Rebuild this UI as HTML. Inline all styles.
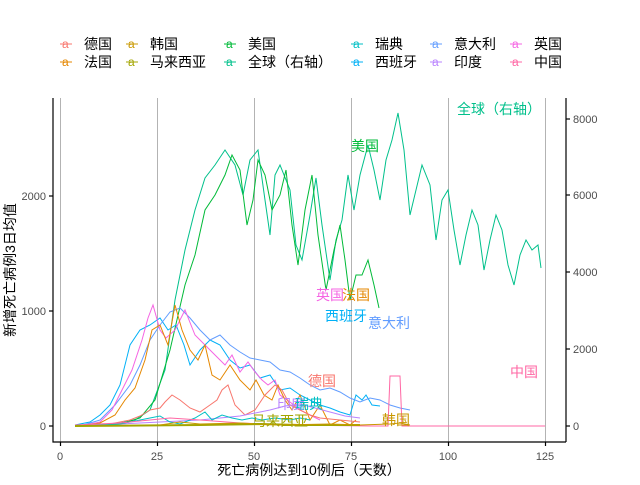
<!DOCTYPE html>
<html><head><meta charset="utf-8"><style>
body{margin:0;background:#fff;}
svg text{font-family:"Liberation Sans","Noto Sans CJK SC",sans-serif;}
</style></head><body>
<svg width="640" height="480" viewBox="0 0 640 480" xmlns="http://www.w3.org/2000/svg">
<rect width="640" height="480" fill="#fff"/>
<!-- legend -->
<g font-size="14" fill="#000">
<g stroke-width="1"><line x1="60" y1="44" x2="72" y2="44" stroke="#F8766D"/><line x1="60" y1="62" x2="72" y2="62" stroke="#E58700"/>
<line x1="126" y1="44" x2="138" y2="44" stroke="#C99800"/><line x1="126" y1="62" x2="138" y2="62" stroke="#A3A500"/>
<line x1="224" y1="44" x2="236" y2="44" stroke="#00BA38"/><line x1="224" y1="62" x2="236" y2="62" stroke="#00C08B"/>
<line x1="351" y1="44" x2="363" y2="44" stroke="#00BFC4"/><line x1="351" y1="62" x2="363" y2="62" stroke="#00B0F6"/>
<line x1="430" y1="44" x2="442" y2="44" stroke="#619CFF"/><line x1="430" y1="62" x2="442" y2="62" stroke="#B983FF"/>
<line x1="510" y1="44" x2="522" y2="44" stroke="#F564E3"/><line x1="510" y1="62" x2="522" y2="62" stroke="#FF67A4"/></g>
<text x="62" y="48" fill="#F8766D" font-size="12">a</text><text x="84" y="49">德国</text>
<text x="62" y="66" fill="#E58700" font-size="12">a</text><text x="84" y="67">法国</text>
<text x="128" y="48" fill="#C99800" font-size="12">a</text><text x="150" y="49">韩国</text>
<text x="128" y="66" fill="#A3A500" font-size="12">a</text><text x="150" y="67">马来西亚</text>
<text x="226" y="48" fill="#00BA38" font-size="12">a</text><text x="248" y="49">美国</text>
<text x="226" y="66" fill="#00C08B" font-size="12">a</text><text x="248" y="67">全球（右轴）</text>
<text x="353" y="48" fill="#00BFC4" font-size="12">a</text><text x="375" y="49">瑞典</text>
<text x="353" y="66" fill="#00B0F6" font-size="12">a</text><text x="375" y="67">西班牙</text>
<text x="432" y="48" fill="#619CFF" font-size="12">a</text><text x="454" y="49">意大利</text>
<text x="432" y="66" fill="#B983FF" font-size="12">a</text><text x="454" y="67">印度</text>
<text x="512" y="48" fill="#F564E3" font-size="12">a</text><text x="534" y="49">英国</text>
<text x="512" y="66" fill="#FF67A4" font-size="12">a</text><text x="534" y="67">中国</text>
</g>
<!-- grid -->
<g stroke="#b3b3b3" stroke-width="1">
<line x1="60.5" y1="98" x2="60.5" y2="442"/><line x1="157.5" y1="98" x2="157.5" y2="442"/>
<line x1="254.5" y1="98" x2="254.5" y2="442"/><line x1="351.5" y1="98" x2="351.5" y2="442"/>
<line x1="448.5" y1="98" x2="448.5" y2="442"/><line x1="545.5" y1="98" x2="545.5" y2="442"/>
</g>
<!-- axes -->
<g stroke="#000" stroke-width="1.2" fill="none">
<polyline points="53,98 53,442 566,442"/><line x1="566" y1="98" x2="566" y2="442"/>
<line x1="49" y1="426" x2="53" y2="426"/><line x1="49" y1="311" x2="53" y2="311"/><line x1="49" y1="196" x2="53" y2="196"/>
<line x1="566" y1="426" x2="570" y2="426"/><line x1="566" y1="349" x2="570" y2="349"/><line x1="566" y1="272" x2="570" y2="272"/><line x1="566" y1="195" x2="570" y2="195"/><line x1="566" y1="119" x2="570" y2="119"/>
<line x1="60.5" y1="442" x2="60.5" y2="446"/><line x1="157.5" y1="442" x2="157.5" y2="446"/><line x1="254.5" y1="442" x2="254.5" y2="446"/><line x1="351.5" y1="442" x2="351.5" y2="446"/><line x1="448.5" y1="442" x2="448.5" y2="446"/><line x1="545.5" y1="442" x2="545.5" y2="446"/>
</g>
<g font-size="11" fill="#4d4d4d">
<text x="46" y="430" text-anchor="end">0</text><text x="46" y="315" text-anchor="end">1000</text><text x="46" y="200" text-anchor="end">2000</text>
<text x="573" y="430">0</text><text x="573" y="353">2000</text><text x="573" y="276">4000</text><text x="573" y="199">6000</text><text x="573" y="123">8000</text>
<g text-anchor="middle"><text x="60" y="460">0</text><text x="157" y="460">25</text><text x="254" y="460">50</text><text x="351" y="460">75</text><text x="448" y="460">100</text><text x="545" y="460">125</text></g>
</g>
<text x="309" y="475" font-size="14" text-anchor="middle">死亡病例达到10例后（天数）</text>
<text transform="translate(15,270) rotate(-90)" font-size="14" text-anchor="middle">新增死亡病例3日均值</text>
<!-- series -->
<g fill="none" stroke-width="1">
<polyline stroke="#00C08B" points="75,426 100,425 120,423 135,420 150,410 165,370 175,300 185,250 195,210 205,178 215,165 225,150 235,165 243,195 250,160 258,150 265,200 270,235 275,175 280,165 290,190 296,245 302,260 310,215 316,178 322,225 330,280 336,240 342,220 348,175 354,210 360,175 368,145 374,170 380,200 386,160 392,140 398,113 404,150 410,215 416,190 422,165 430,185 436,240 442,200 448,190 454,230 460,265 466,235 472,210 478,225 484,270 490,240 496,215 502,230 508,265 514,285 520,255 526,240 532,250 538,245 541,268"/>
<polyline stroke="#00BA38" points="95,426 120,424 140,418 155,400 170,350 185,285 195,255 205,210 215,195 225,175 232,155 240,170 247,225 253,200 258,160 265,175 272,210 280,195 286,170 292,225 298,265 305,210 312,175 318,235 326,290 334,250 340,225 345,260 350,300 356,275 362,275 368,260 374,285 379,308"/>
<polyline stroke="#00B0F6" points="75,425 90,422 100,415 110,405 120,385 130,345 140,330 150,325 160,318 168,330 176,325 184,345 190,365 200,350 210,340 220,345 230,360 240,368 250,365 260,378 270,375 280,390 290,388 300,395 310,400 320,405 330,408 340,412 350,415 356,395 362,400 366,395 372,405 380,406"/>
<polyline stroke="#619CFF" points="80,426 100,420 115,405 130,385 140,365 150,340 160,325 170,312 180,308 190,318 200,330 210,340 220,335 230,345 240,352 250,358 260,360 270,362 280,370 290,372 300,378 310,385 320,390 330,388 340,392 350,398 360,402 370,398 380,400 390,405 400,408 410,410"/>
<polyline stroke="#F564E3" points="80,426 100,422 112,410 122,390 132,370 142,340 148,318 153,305 160,330 166,338 175,330 185,310 195,335 205,345 215,355 225,365 232,355 240,372 248,362 255,372 262,380 268,385 275,380 280,395 290,402 300,410 310,415 320,420"/>
<polyline stroke="#E58700" points="80,426 100,423 115,415 125,400 135,388 145,360 152,330 160,325 168,345 175,305 182,330 190,350 198,360 205,345 212,375 220,380 230,365 240,380 250,390 256,380 264,395 272,400 278,385 285,400 292,410 300,395 310,420 320,405 330,425 340,420 350,425 356,420"/>
<polyline stroke="#F8766D" points="85,426 110,424 130,420 140,416 150,410 160,408 165,402 172,395 180,400 190,408 200,412 210,405 217,400 222,390 228,385 235,405 245,415 255,410 265,395 275,385 282,390 290,405 300,410 310,415 320,418 340,420 360,422"/>
<polyline stroke="#B983FF" points="75,426 120,424 160,422 200,420 240,416 270,410 285,406 300,404 315,408 330,412 345,416 360,418"/>
<polyline stroke="#00BFC4" points="85,426 120,424 140,420 150,418 160,416 170,422 180,424 195,418 205,412 212,420 222,415 232,418 242,420 252,418 262,420 275,418 290,420 300,418 310,420"/>
<polyline stroke="#FF67A4" points="75,425 120,423 150,420 170,418 200,420 240,423 290,425 370,426 388,426 390,376 400,376 402,426 545,426"/>
<polyline stroke="#A3A500" stroke-width="2" points="75,426 200,425 260,424 300,425 360,425"/>
<polyline stroke="#C99800" points="160,425 180,422 200,424 240,423 280,425 330,424 360,425 390,424 400,423 410,425"/>
</g>
<!-- labels -->
<g font-size="14">
<text x="457" y="114" fill="#00C08B">全球（右轴）</text>
<text x="351" y="151" fill="#00BA38">美国</text>
<text x="316" y="300" fill="#F564E3">英国</text>
<text x="342" y="300" fill="#E58700">法国</text>
<text x="325" y="321" fill="#00B0F6">西班牙</text>
<text x="368" y="328" fill="#619CFF">意大利</text>
<text x="308" y="386" fill="#F8766D">德国</text>
<text x="510" y="377" fill="#FF67A4">中国</text>
<text x="382" y="425" fill="#C99800">韩国</text>
<text x="252" y="426" fill="#A3A500">马来西亚</text>
<text x="277" y="409" fill="#B983FF">印度</text>
<text x="295" y="409" fill="#00BFC4">瑞典</text>
</g>
</svg>
</body></html>
